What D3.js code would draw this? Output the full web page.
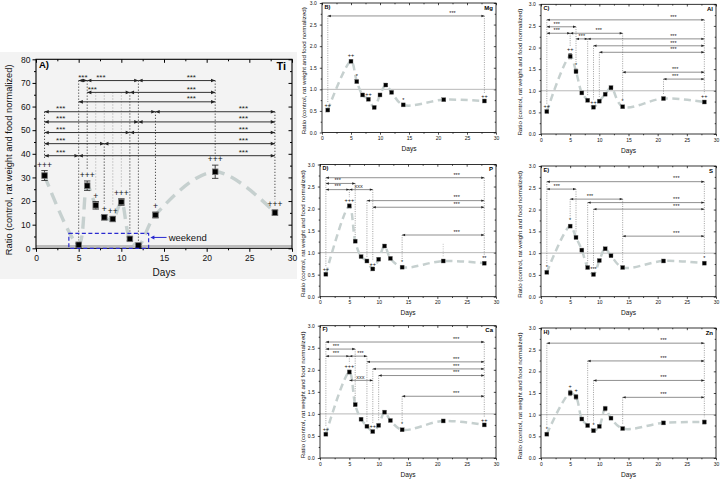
<!DOCTYPE html>
<html><head><meta charset="utf-8">
<script src="https://cdn.jsdelivr.net/npm/d3@7"></script>
<style>body{margin:0;background:#fff} svg{display:block;font-family:"Liberation Sans",Arial,sans-serif}</style>
</head><body><svg id="c" width="720" height="480"></svg>
<script>
// ---------------- data ----------------
const days = [1, 5, 6, 7, 8, 9, 10, 11, 12, 14, 21, 28];
const xTicks = [0, 5, 10, 15, 20, 25, 30];

const tiValues = [30.8, 1.5, 26.5, 18.2, 13.1, 12.4, 19.6, 4.0, 1.2, 14.1, 32.4, 15.1];
const tiErrors = [2.1, 0.6, 2.0, 1.6, 1.0, 1.0, 1.4, 0.8, 0.5, 1.2, 2.8, 1.0];
const tiMarks  = ["+++", "", "+++", "+", "+", "++", "+++", "", "", "+", "+++", "+++"];
const tiBrackets = [
  [71, 5, 6, 5.5, "***"], [71, 6, 12, 7.6, "***"], [71, 12, 21, 18.2, "***"],
  [66, 6, 11, 6.6, "***"], [66, 11, 21, 18.2, "***"],
  [62, 5, 21, 18.2, "***"],
  [57.8, 1, 14, 2.9, "***"], [57.8, 14, 28, 24.3, "***"],
  [53.5, 1, 12, 2.9, "***"], [53.5, 12, 28, 24.3, "***"],
  [49, 1, 11, 2.9, "***"], [49, 11, 28, 24.3, "***"],
  [44.3, 1, 8, 2.9, "***"], [44.3, 8, 28, 24.3, "***"],
  [39.2, 1, 5, 2.9, "***"], [39.2, 5, 28, 24.3, "***"]
];
const tiGuides = [[7, 66], [8, 66], [9, 66], [10, 66]];
const yTicksTi = [0, 10, 20, 30, 40, 50, 60, 70, 80];

const mgValues = [0.52, 1.65, 1.18, 0.87, 0.77, 0.58, 0.87, 1.10, 0.93, 0.64, 0.76, 0.73];
const mgErrors = [0.02, 0.03, 0.03, 0.02, 0.02, 0.02, 0.02, 0.03, 0.02, 0.02, 0.02, 0.02];
const mgMarks  = ["++", "++", "*", "", "++", "", "", "", "", "*", "", "++"];
const mgBrackets = [[2.70, 1, 28, 22.5, "***"]];

const alValues = [0.52, 1.80, 1.45, 0.95, 0.78, 0.62, 0.76, 0.92, 1.07, 0.63, 0.82, 0.74];
const alErrors = [0.02, 0.06, 0.05, 0.03, 0.03, 0.02, 0.03, 0.03, 0.04, 0.02, 0.03, 0.03];
const alMarks  = ["++", "++", "*", "", "", "++", "", "", "", "*", "", "++"];
const alBrackets = [
  [2.64, 1, 28, 22.7, "***"], [2.48, 1, 6, 2.7, "***"],
  [2.33, 1, 5, 2.7, "***"], [2.33, 5, 14, 9.9, "***"],
  [2.20, 6, 8, 7, "***"], [2.20, 8, 28, 22.7, "***"],
  [2.04, 9, 28, 22.7, "***"], [1.89, 10, 28, 22.7, "***"],
  [1.43, 14, 28, 23, "***"], [1.27, 21, 28, 23, "***"]
];

const pValues = [0.51, 2.06, 1.26, 0.91, 0.81, 0.63, 0.85, 1.15, 0.87, 0.67, 0.81, 0.76];
const pErrors = [0.02, 0.04, 0.03, 0.02, 0.02, 0.02, 0.02, 0.03, 0.02, 0.02, 0.02, 0.02];
const pMarks  = ["++", "+++", "", "", "", "++", "", "", "", "*", "", "**"];
const pBrackets = [
  [2.70, 1, 28, 23.3, "***"], [2.57, 1, 6, 3, "***"],
  [2.43, 1, 5, 3, "***"], [2.43, 5, 9, 6.6, "xxx"],
  [2.18, 8, 28, 23.3, "***"], [2.03, 9, 28, 23.3, "***"],
  [1.40, 14, 28, 23.3, "***"]
];
const pGuides = [[21, 1.2]];

const sValues = [0.56, 1.62, 1.36, 1.07, 0.67, 0.51, 0.83, 1.10, 0.94, 0.67, 0.82, 0.77];
const sErrors = [0.02, 0.03, 0.03, 0.02, 0.02, 0.02, 0.02, 0.03, 0.02, 0.02, 0.02, 0.02];
const sMarks  = ["*", "*", "", "", "", "***", "", "", "", "", "", "*"];
const sBrackets = [
  [2.64, 1, 28, 23.2, "***"], [2.47, 1, 6, 2.7, "***"],
  [2.24, 5, 14, 8.4, "***"], [2.16, 8, 28, 23.2, "***"],
  [2.01, 9, 28, 23.2, "***"], [1.39, 14, 28, 23.2, "***"]
];

const caValues = [0.54, 1.95, 1.21, 0.88, 0.72, 0.60, 0.74, 1.04, 0.85, 0.64, 0.84, 0.75];
const caErrors = [0.02, 0.04, 0.03, 0.02, 0.02, 0.02, 0.02, 0.03, 0.02, 0.02, 0.02, 0.02];
const caMarks  = ["++", "+++", "", "", "", "++", "", "", "", "*", "", "++"];
const caBrackets = [
  [2.63, 1, 28, 23.2, "***"], [2.47, 1, 6, 2.7, "***"],
  [2.31, 1, 5, 2.7, "***"], [2.31, 5, 8, 6.9, "***"],
  [2.18, 8, 28, 23.2, "***"], [2.02, 9, 28, 23.2, "***"],
  [1.87, 10, 28, 23.2, "***"], [1.76, 5, 9, 6.9, "xxx"],
  [1.40, 14, 28, 23.2, "***"]
];

const znValues = [0.55, 1.50, 1.41, 0.90, 0.75, 0.63, 0.73, 1.14, 0.92, 0.68, 0.81, 0.83];
const znErrors = [0.02, 0.06, 0.05, 0.03, 0.03, 0.03, 0.03, 0.05, 0.03, 0.02, 0.03, 0.04];
const znMarks  = ["*", "+", "+", "", "", "*", "", "", "", "", "", ""];
const znBrackets = [
  [2.65, 1, 28, 21, "***"], [2.24, 8, 28, 21, "***"],
  [1.79, 9, 28, 21, "***"], [1.40, 14, 28, 21, "***"]
];
const yTicksSmall = [0, 0.5, 1.0, 1.5, 2.0, 2.5, 3.0];

const yLabelText = "Ratio (control, rat weight and food normalized)";

// ---------------- drawing ----------------
const svg = d3.select("#c");
svg.append("rect").attr("x", 0).attr("y", 52).attr("width", 297).attr("height", 227).attr("fill", "#f3f3f3");

let clipId = 0;
function drawPanel(p) {
  const big = p.big;
  const g = svg.append("g");
  const x = d3.scaleLinear().domain([0, 30]).range([p.x0, p.x1]);
  const yMax = p.yTicks[p.yTicks.length - 1];
  const y = d3.scaleLinear().domain([0, yMax]).range([p.y1, p.y0]);
  const yStep = p.yTicks[1] - p.yTicks[0];
  const xMinor = d3.range(2.5, 30, 5);
  const yMinor = p.yTicks.slice(0, -1).map(v => v + yStep / 2);
  const tMaj = big ? 3.5 : 2.2, tMin = big ? 2 : 1.3;
  const tickFont = big ? 8.5 : 5;
  const sw = big ? 1 : 0.7;

  function styleAxis(sel) {
    sel.select(".domain").remove();
    sel.selectAll("line").attr("stroke", "#000").attr("stroke-width", sw);
    sel.selectAll("text").attr("font-size", tickFont).attr("fill", "#111");
  }
  g.append("g").attr("transform", `translate(0,${p.y1})`)
    .call(d3.axisBottom(x).tickValues(xTicks).tickSize(tMaj).tickPadding(big ? 3.4 : 1.9).tickFormat(d3.format("d"))).call(styleAxis);
  g.append("g").attr("transform", `translate(0,${p.y1})`)
    .call(d3.axisBottom(x).tickValues(xMinor).tickSize(tMin).tickFormat("")).call(styleAxis);
  g.append("g").attr("transform", `translate(0,${p.y0})`)
    .call(d3.axisTop(x).tickValues(xTicks).tickSize(-tMaj).tickFormat("")).call(styleAxis);
  g.append("g").attr("transform", `translate(0,${p.y0})`)
    .call(d3.axisTop(x).tickValues(xMinor).tickSize(-tMin).tickFormat("")).call(styleAxis);
  g.append("g").attr("transform", `translate(${p.x0},0)`)
    .call(d3.axisLeft(y).tickValues(p.yTicks).tickSize(tMaj).tickPadding(big ? 2 : 3).tickFormat(big ? d3.format("d") : d3.format(".1f"))).call(styleAxis);
  g.append("g").attr("transform", `translate(${p.x0},0)`)
    .call(d3.axisLeft(y).tickValues(yMinor).tickSize(tMin).tickFormat("")).call(styleAxis);
  g.append("g").attr("transform", `translate(${p.x1},0)`)
    .call(d3.axisRight(y).tickValues(p.yTicks).tickSize(-tMaj).tickFormat("")).call(styleAxis);
  g.append("g").attr("transform", `translate(${p.x1},0)`)
    .call(d3.axisRight(y).tickValues(yMinor).tickSize(-tMin).tickFormat("")).call(styleAxis);

  g.append("line").attr("x1", p.x0).attr("x2", p.x1).attr("y1", y(1)).attr("y2", y(1))
    .attr("stroke", big ? "#bcbcbc" : "#9a9a9a").attr("stroke-width", big ? 2 : 0.7);

  const cid = "clip" + (clipId++);
  svg.append("clipPath").attr("id", cid).append("rect")
    .attr("x", p.x0).attr("y", p.y0).attr("width", p.x1 - p.x0).attr("height", p.y1 - p.y0);

  const line = d3.line().x((d, i) => x(days[i])).y(d => y(d)).curve(d3.curveCatmullRom.alpha(0.5));
  g.append("path").attr("d", line(p.values)).attr("clip-path", `url(#${cid})`)
    .attr("fill", "none").attr("stroke", "#c6d0cf").attr("stroke-width", big ? 3.4 : 2.5)
    .attr("stroke-dasharray", big ? "12,7" : "7,4.5");

  const tops = new Map();
  p.brackets.forEach(([row, a, b]) => [a, b].forEach(d => tops.set(d, Math.max(tops.get(d) || 0, row))));
  const gapMark = big ? 11 : 7, gapPt = 3;
  function guide(d, row, color) {
    const i = days.indexOf(d);
    if (i < 0) return;
    const yb = y(p.values[i] + p.errors[i]) - (p.marks[i] ? gapMark : gapPt);
    g.append("line").attr("x1", x(d)).attr("x2", x(d)).attr("y1", y(row)).attr("y2", yb)
      .attr("stroke", color).attr("stroke-width", big ? 0.9 : 0.7).attr("stroke-dasharray", big ? "1.2,1.8" : "1,1.3");
  }
  tops.forEach((row, d) => guide(d, row, big ? "#333" : "#777"));
  (p.guides || []).forEach(([d, row]) => guide(d, row, "#aaa"));

  const L = big ? 4.2 : 3, H = big ? 1.8 : 1.2;
  const arrow = (xp, yp, dir) => `M${xp},${yp}L${xp - dir * L},${yp - H}L${xp - dir * L},${yp + H}Z`;
  p.brackets.forEach(([row, a, b, ld, lab]) => {
    const yy = y(row);
    g.append("line").attr("x1", x(a)).attr("x2", x(b)).attr("y1", yy).attr("y2", yy)
      .attr("stroke", big ? "#333" : "#444").attr("stroke-width", big ? 1 : 0.6);
    g.append("path").attr("d", arrow(x(a), yy, -1)).attr("fill", "#222");
    g.append("path").attr("d", arrow(x(b), yy, 1)).attr("fill", "#222");
    g.append("text").attr("x", x(ld)).attr("y", yy - (big ? 0.5 : 1.2)).attr("text-anchor", "middle")
      .attr("font-size", big ? 8 : 5.5).attr("fill", "#222").text(lab);
  });

  const cap = big ? 3.2 : 1.8;
  days.forEach((d, i) => {
    const v = p.values[i], e = p.errors[i], xx = x(d);
    g.append("line").attr("x1", xx).attr("x2", xx).attr("y1", y(v - e)).attr("y2", y(v + e)).attr("stroke", "#333").attr("stroke-width", big ? 0.9 : 0.6);
    [v - e, v + e].forEach(w => g.append("line").attr("x1", xx - cap).attr("x2", xx + cap).attr("y1", y(w)).attr("y2", y(w)).attr("stroke", "#333").attr("stroke-width", big ? 0.9 : 0.6));
  });
  const ms = big ? 5.6 : 4;
  g.selectAll(null).data(p.values).enter().append("rect")
    .attr("x", (d, i) => x(days[i]) - ms / 2).attr("y", d => y(d) - ms / 2)
    .attr("width", ms).attr("height", ms).attr("fill", "#000").attr("stroke", "#777").attr("stroke-width", big ? 0.8 : 0.4);
  g.selectAll(null).data(p.marks).enter().append("text")
    .attr("x", (d, i) => x(days[i])).attr("y", (d, i) => y(p.values[i] + p.errors[i]) - (big ? 3 : 2.5))
    .attr("text-anchor", "middle").attr("font-size", big ? 8.5 : 5.5).attr("fill", "#111").text(d => d);

  g.append("rect").attr("x", p.x0).attr("y", p.y0).attr("width", p.x1 - p.x0).attr("height", p.y1 - p.y0)
    .attr("fill", "none").attr("stroke", "#000").attr("stroke-width", big ? 1.1 : 0.8);

  g.append("text").attr("x", p.x0 + (big ? 3 : 2.5)).attr("y", p.y0 + (big ? 9 : 5.5))
    .attr("font-size", big ? 9.5 : 5.5).attr("font-weight", "bold").text(p.tag);
  g.append("text").attr("x", p.x1 - (big ? 6 : 3)).attr("y", p.y0 + (big ? 11 : 6.5)).attr("text-anchor", "end")
    .attr("font-size", big ? 11 : 6).attr("font-weight", "bold").text(p.element);
  g.append("text").attr("x", (p.x0 + p.x1) / 2).attr("y", p.y1 + (big ? 28 : 18.5)).attr("text-anchor", "middle")
    .attr("font-size", big ? 10 : 6.6).attr("fill", "#111").text("Days");
  const cy = (p.y0 + p.y1) / 2 + (big ? 6 : 3);
  g.append("text").attr("transform", `translate(${p.ylx},${cy}) rotate(-90)`).attr("text-anchor", "middle")
    .attr("font-size", big ? 9.3 : 6.2).attr("fill", "#111").text(yLabelText);

  return { g, x, y };
}

const A = drawPanel({ big: true, x0: 36, x1: 292, y0: 59.3, y1: 248.3, yTicks: yTicksTi, tag: "A)", element: "Ti", ylx: 12,
  values: tiValues, errors: tiErrors, marks: tiMarks, brackets: tiBrackets, guides: tiGuides });
A.g.append("rect").attr("x", A.x(3.85)).attr("y", A.y(6.3)).attr("width", A.x(13.2) - A.x(3.85)).attr("height", A.y(0) - A.y(6.3))
  .attr("fill", "none").attr("stroke", "#2a2ad0").attr("stroke-width", 1.2).attr("stroke-dasharray", "4,2.5");
A.g.append("line").attr("x1", A.x(15.3)).attr("x2", A.x(13.6)).attr("y1", A.y(4.6)).attr("y2", A.y(4.6)).attr("stroke", "#2a2ad0").attr("stroke-width", 1);
A.g.append("path").attr("d", `M${A.x(13.4)},${A.y(4.6)}l4,-2l0,4Z`).attr("fill", "#2a2ad0");
A.g.append("text").attr("x", A.x(15.55)).attr("y", A.y(4.6) + 3.4).attr("font-size", 9.5).attr("fill", "#111").text("weekend");

drawPanel({ x0: 322, x1: 496, y0: 3, y1: 132.5, yTicks: yTicksSmall, tag: "B)", element: "Mg", ylx: 306,
  values: mgValues, errors: mgErrors, marks: mgMarks, brackets: mgBrackets });
drawPanel({ x0: 541, x1: 716, y0: 4.3, y1: 134, yTicks: yTicksSmall, tag: "C)", element: "Al", ylx: 522,
  values: alValues, errors: alErrors, marks: alMarks, brackets: alBrackets });
drawPanel({ x0: 320, x1: 496, y0: 164.5, y1: 296.7, yTicks: yTicksSmall, tag: "D)", element: "P", ylx: 305,
  values: pValues, errors: pErrors, marks: pMarks, brackets: pBrackets, guides: pGuides });
drawPanel({ x0: 541, x1: 716, y0: 166, y1: 296.7, yTicks: yTicksSmall, tag: "E)", element: "S", ylx: 522,
  values: sValues, errors: sErrors, marks: sMarks, brackets: sBrackets });
drawPanel({ x0: 320, x1: 496, y0: 325.7, y1: 458, yTicks: yTicksSmall, tag: "F)", element: "Ca", ylx: 305,
  values: caValues, errors: caErrors, marks: caMarks, brackets: caBrackets });
drawPanel({ x0: 541, x1: 716, y0: 328, y1: 458, yTicks: yTicksSmall, tag: "H)", element: "Zn", ylx: 522,
  values: znValues, errors: znErrors, marks: znMarks, brackets: znBrackets });
</script></body></html>
